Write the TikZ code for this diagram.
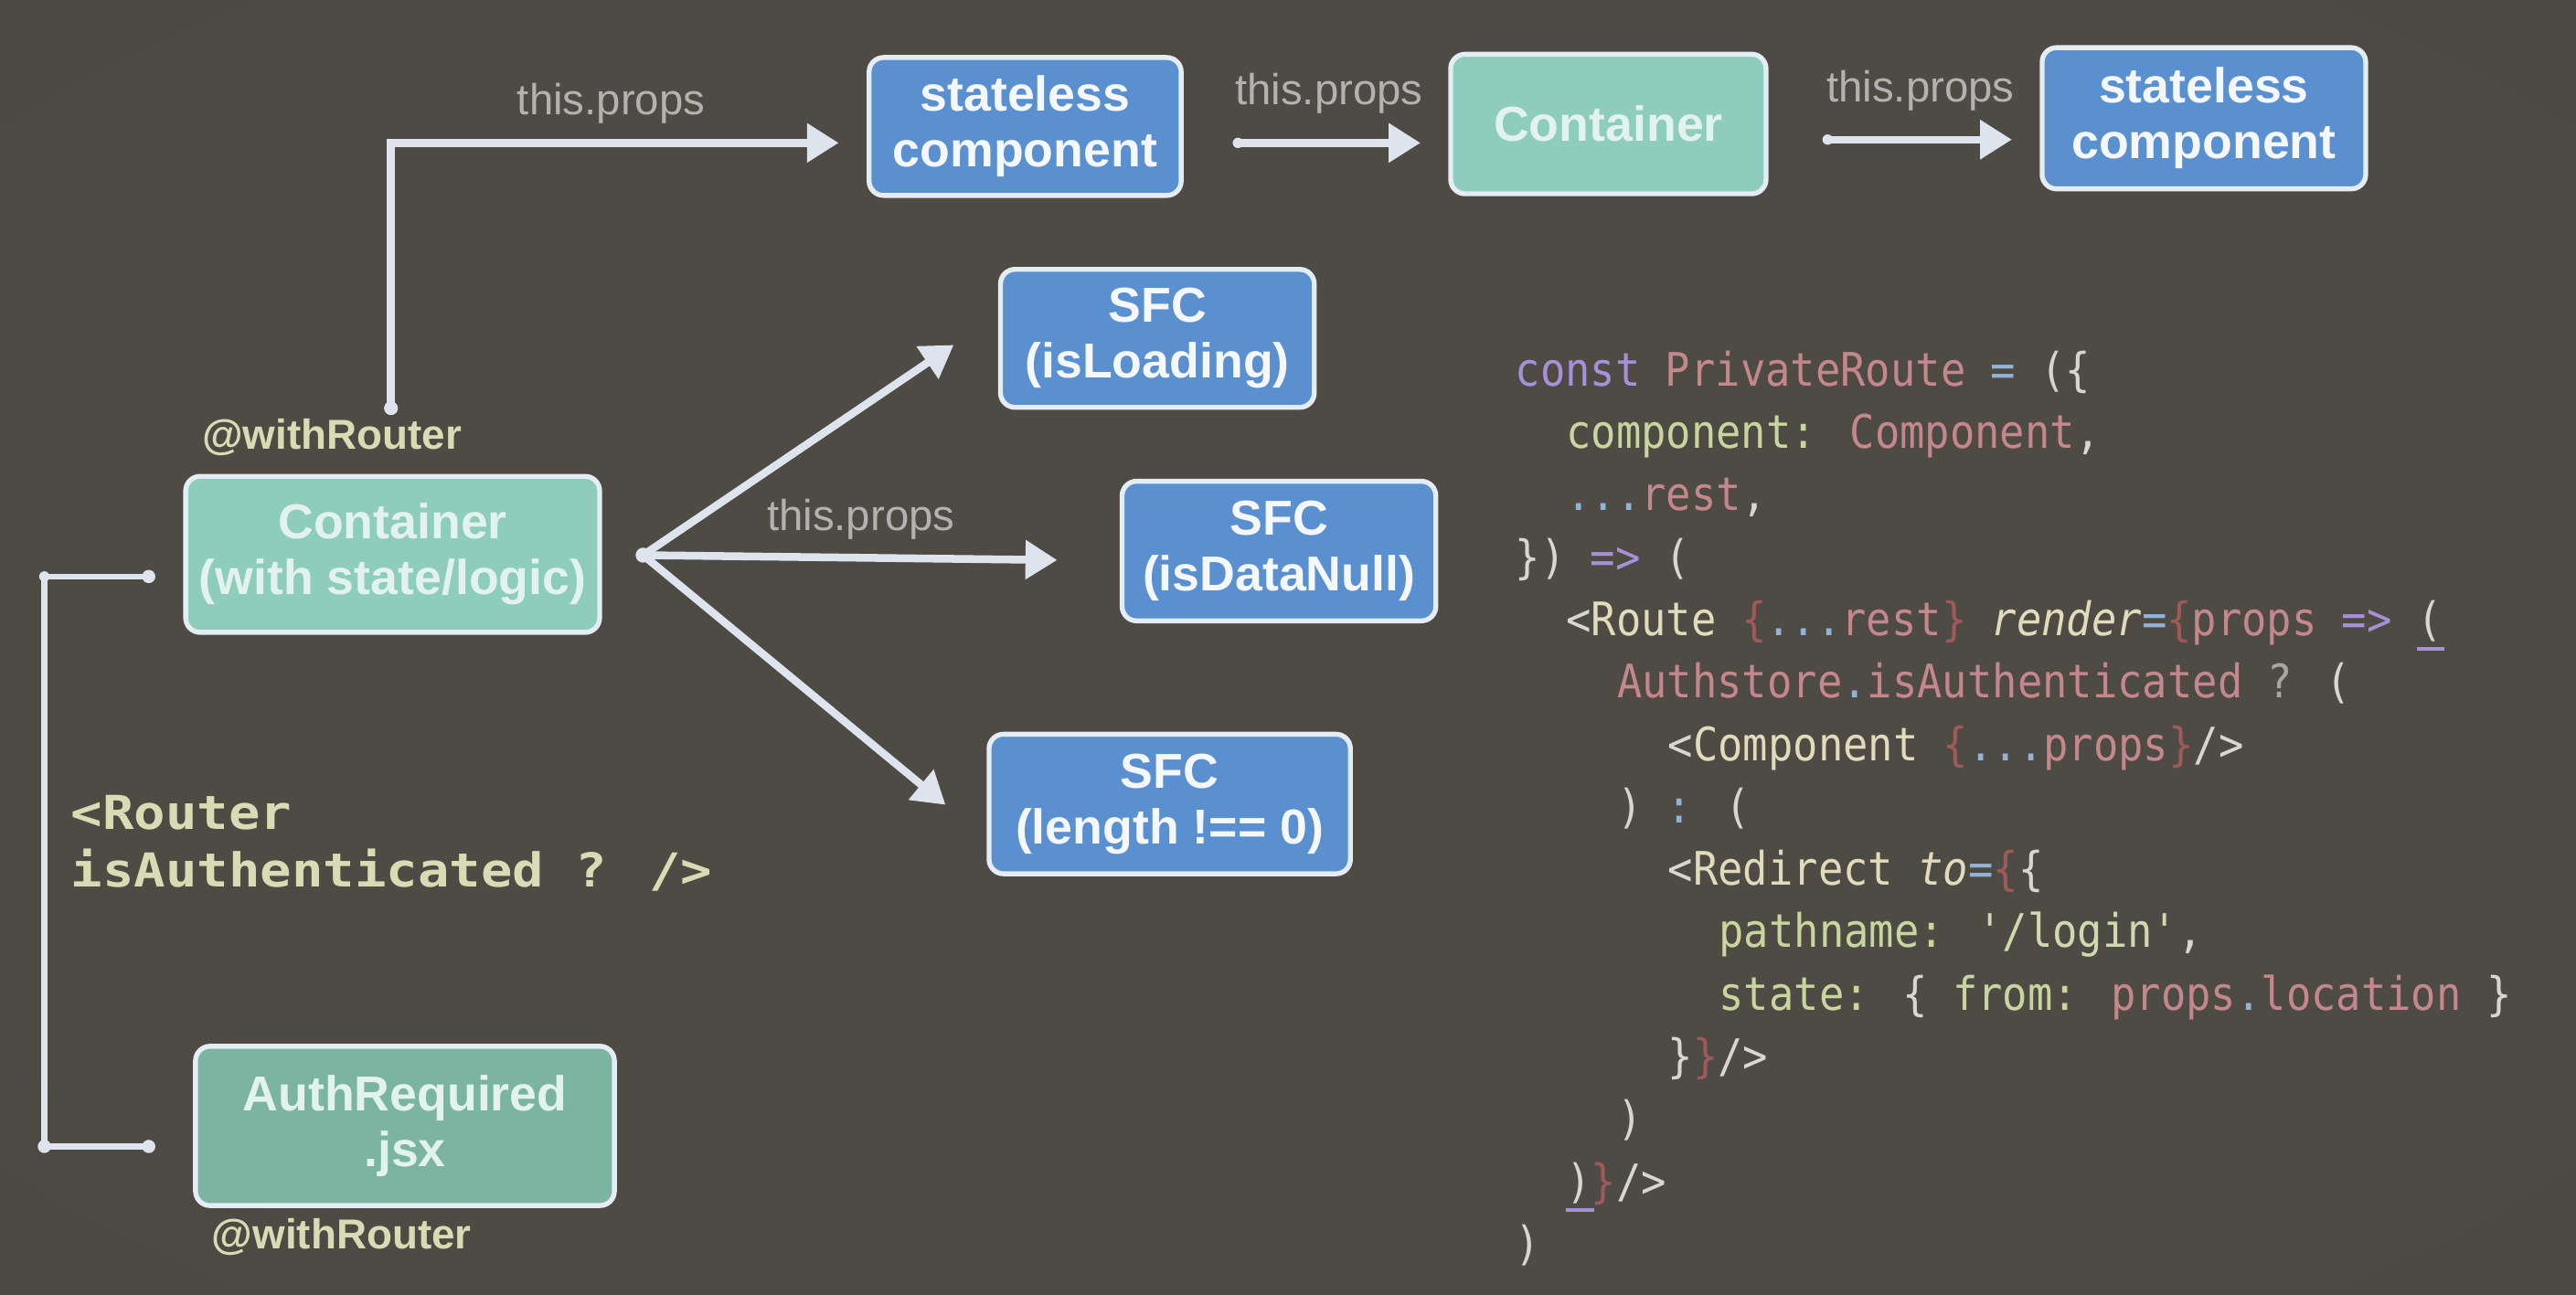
\documentclass[tikz,border=0pt]{standalone}
\usepackage{fontspec}
\setmainfont{Liberation Sans}
\newfontfamily\codefont[FakeStretch=0.9,Ligatures=TeXOff]{DejaVu Sans Mono}
\newfontfamily\routerfont[FakeStretch=1.12,Ligatures=TeXOff]{DejaVu Sans Mono}
\usetikzlibrary{arrows.meta,calc}

% palette
\definecolor{bgc}{HTML}{4E4A44}
\definecolor{bge}{HTML}{3E3B36}
\definecolor{bluefill}{HTML}{5A8FD0}
\definecolor{tealfill}{HTML}{8ECCBC}
\definecolor{authfill}{HTML}{7CB4A2}
\definecolor{boxline}{HTML}{E4ECF4}
\definecolor{bluetext}{HTML}{F4F8FD}
\definecolor{tealtext}{HTML}{E2F2EC}
\definecolor{cline}{HTML}{DDE4EE}
\definecolor{propgray}{HTML}{B2B2B0}
\definecolor{wrcol}{HTML}{D8DBB4}
% code colours
\definecolor{cwhite}{HTML}{D8D6CE}
\definecolor{cpurple}{HTML}{A690D8}
\definecolor{cpink}{HTML}{C4878C}
\definecolor{cred}{HTML}{9E5A5A}
\definecolor{cblue}{HTML}{92B3D8}
\definecolor{ckey}{HTML}{C9D59E}
\definecolor{ctag}{HTML}{E0DBBA}
\definecolor{cstr}{HTML}{CFD9B0}
\definecolor{cgray}{HTML}{A8A8A0}

% darker towards the edges of the slide
\pgfdeclareradialshading{slidebg}{\pgfpoint{0bp}{0bp}}{%
  color(0bp)=(bgc); color(28bp)=(bgc); color(72bp)=(bge)}

% bracket-match underline used in the editor listing
\newcommand\matchmark[1]{\leavevmode\rlap{\textcolor{cpurple}{\rule[-0.32em]{0.6em}{1.3pt}}}\textcolor{cwhite}{#1}}

\tikzset{
  box/.style={draw=boxline, line width=1.7pt, rounded corners=5pt, align=center,
    inner sep=0pt, font={\fontsize{17}{19.3}\selectfont\bfseries}},
  bluebox/.style={box, fill=bluefill, text=bluetext},
  tealbox/.style={box, fill=tealfill, text=tealtext},
  lbl/.style={text=propgray, inner sep=0pt, font={\fontsize{15}{18}\selectfont}},
  wr/.style={text=wrcol, inner sep=0pt, font={\fontsize{14.5}{17}\selectfont\bfseries}},
  arr/.style={draw=cline, line width=2.7pt, line cap=round,
    -{Triangle[length=11pt,width=13pt]}},
  brk/.style={draw=cline, line width=2pt, line cap=round, line join=round},
  dot/.style={fill=cline},
  codeline/.style={anchor=base west, inner sep=0pt,
    font={\codefont\fontsize{16}{21.6}\selectfont}, text=cwhite},
  routercode/.style={anchor=base west, inner sep=0pt,
    font={\routerfont\fontsize{16.2}{19.8}\selectfont\bfseries}, text=wrcol},
}

\begin{document}
\begin{tikzpicture}[x=0.02cm, y=-0.02cm]
\shade[shading=slidebg] (0,0) rectangle (1568,788);
\useasboundingbox (0,0) rectangle (1568,788);

% ---- component boxes
\node[bluebox, minimum width=3.80cm, minimum height=1.68cm] (s1) at (624,77) {stateless\\component};
\node[tealbox, minimum width=3.84cm, minimum height=1.70cm] (c2) at (979,75.5) {Container};
\node[bluebox, minimum width=3.94cm, minimum height=1.72cm] (s3) at (1341.5,72) {stateless\\component};
\node[bluebox, minimum width=3.82cm, minimum height=1.68cm] (f1) at (704.5,206) {SFC\\(isLoading)};
\node[bluebox, minimum width=3.82cm, minimum height=1.70cm] (f2) at (778.5,335.5) {SFC\\(isDataNull)};
\node[bluebox, minimum width=4.40cm, minimum height=1.70cm] (f3) at (712,489.5) {SFC\\(length !== 0)};
\node[tealbox, minimum width=5.04cm, minimum height=1.90cm] (cont) at (239,337.5) {Container\\(with state/logic)};
\node[tealbox, fill=authfill, minimum width=5.10cm, minimum height=1.94cm] (auth) at (246.5,685.5) {AuthRequired\\.jsx};

% ---- labels
\node[lbl] (p1) at (372,63) {this.props};
\node[lbl] (p2) at (809,57) {this.props};
\node[lbl] (p3) at (1169,55) {this.props};
\node[lbl] (p4) at (524,316) {this.props};
\node[wr] (wr1) at (202,266) {@withRouter};
\node[wr] (wr2) at (208,753) {@withRouter};

\node[routercode] (rt1) at (43,505) {<Router};
\node[routercode] (rt2) at (43,540) {isAuthenticated ? />};

% ---- connectors
\coordinate (up) at ($(cont.north)+(-1,-40)$);
\draw[arr] (up) |- ($(s1.west)+(-17,10)$);
\fill[dot] (up) circle[radius=2.4pt];

\coordinate (a2) at ($(s1.east)+(33,10)$);
\draw[arr, shorten >=9.6pt] (a2) -- (a2 -| c2.west);
\fill[dot] (a2) circle[radius=1.8pt];
\coordinate (a3) at ($(c2.east)+(36,9.5)$);
\draw[arr, shorten >=9.6pt] (a3) -- (a3 -| s3.west);
\fill[dot] (a3) circle[radius=1.8pt];

\coordinate (fan) at ($(cont.east)+(25,0.5)$);
\draw[arr] (fan) -- ($(f1.west)+(-27,4)$);
\draw[arr] (fan) -- ($(f2.west)+(-38,5.5)$);
\draw[arr] (fan) -- ($(f3.west)+(-25,0.5)$);
\fill[dot] (fan) circle[radius=2.6pt];

\coordinate (b1) at ($(cont.west)+(-21,13.5)$);
\coordinate (b2) at ($(auth.west)+(-27,12.5)$);
\coordinate (xl) at (27,0);
\draw[brk] (b1) -- (b1 -| xl) |- (b2);
\foreach \p in {b1,b2} \fill[dot] (\p) circle[radius=2.3pt];
\fill[dot] (b2 -| xl) circle[radius=2.3pt];
\fill[dot] (b1 -| xl) circle[radius=1.8pt];

% ---- PrivateRoute listing
\node[codeline] (l0) at (922,235) {\textcolor{cpurple}{const} \textcolor{cpink}{PrivateRoute} \textcolor{cblue}{=} (\{};
\node[codeline] (l1) at (953,273) {\textcolor{ckey}{component:} \textcolor{cpink}{Component},};
\node[codeline] (l2) at (953,311) {\textcolor{cblue}{...}\textcolor{cpink}{rest},};
\node[codeline] (l3) at (922,349) {\}) \textcolor{cpurple}{=>} (};
\node[codeline] (l4) at (953,387) {<\textcolor{ctag}{Route} \textcolor{cred}{\{}\textcolor{cblue}{...}\textcolor{cpink}{rest}\textcolor{cred}{\}} \textcolor{ctag}{\itshape render}\textcolor{cblue}{=}\textcolor{cred}{\{}\textcolor{cpink}{props} \textcolor{cpurple}{=>} \matchmark{(}};
\node[codeline] (l5) at (984,425) {\textcolor{cpink}{Authstore}\textcolor{cblue}{.}\textcolor{cpink}{isAuthenticated} \textcolor{cgray}{?} (};
\node[codeline] (l6) at (1015,463) {<\textcolor{ctag}{Component} \textcolor{cred}{\{}\textcolor{cblue}{...}\textcolor{cpink}{props}\textcolor{cred}{\}}/>};
\node[codeline] (l7) at (984,501) {) \textcolor{cblue}{:} (};
\node[codeline] (l8) at (1015,539) {<\textcolor{ctag}{Redirect} \textcolor{ctag}{\itshape to}\textcolor{cblue}{=}\textcolor{cred}{\{}\{};
\node[codeline] (l9) at (1046,577) {\textcolor{ckey}{pathname:} \textcolor{cstr}{'/login'},};
\node[codeline] (l10) at (1046,615) {\textcolor{ckey}{state:} \{ \textcolor{ckey}{from:} \textcolor{cpink}{props}\textcolor{cblue}{.}\textcolor{cpink}{location} \}};
\node[codeline] (l11) at (1015,653) {\}\textcolor{cred}{\}}/>};
\node[codeline] (l12) at (984,691) {)};
\node[codeline] (l13) at (953,729) {\matchmark{)}\textcolor{cred}{\}}/>};
\node[codeline] (l14) at (922,767) {)};
\end{tikzpicture}
\end{document}
